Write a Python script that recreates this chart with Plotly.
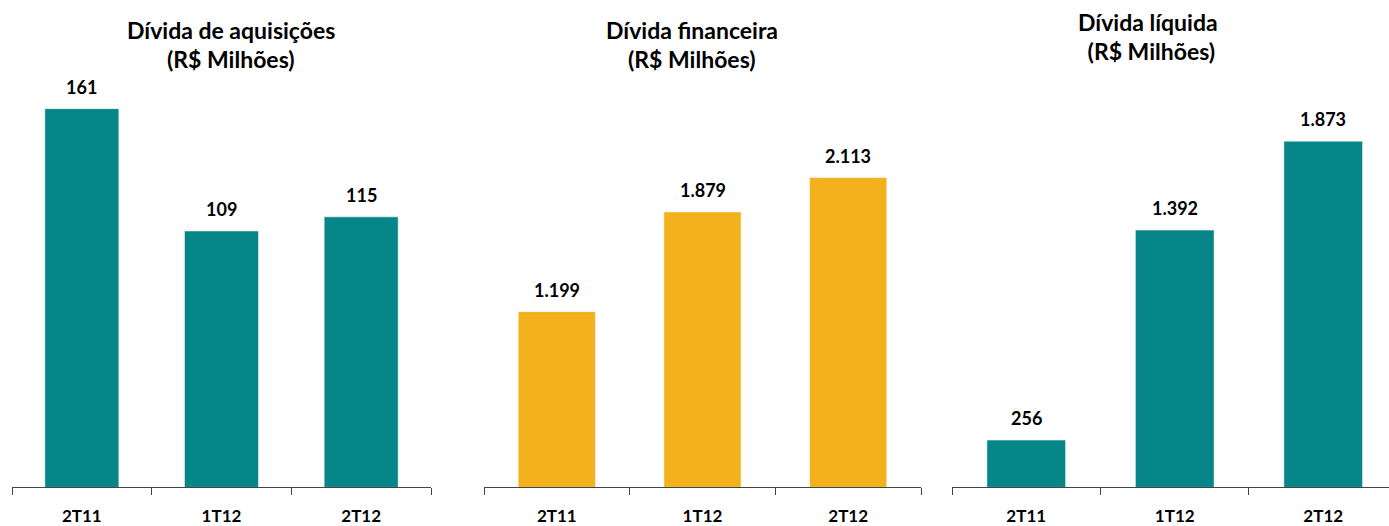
import plotly.graph_objects as go

categories = ["2T11", "1T12", "2T12"]
aquisicoes = [161, 109, 115]
financeira = [1199, 1879, 2113]
liquida = [256, 1392, 1873]

labels_aquisicoes = ["161", "109", "115"]
labels_financeira = ["1.199", "1.879", "2.113"]
labels_liquida = ["256", "1.392", "1.873"]

titles = [
    ("Dívida de aquisições", "(R$ Milhões)"),
    ("Dívida financeira", "(R$ Milhões)"),
    ("Dívida líquida", " (R$ Milhões)"),
]

W, H = 1389, 526
TEAL = "#07868A"
ORANGE = "#F3B11E"
FONT = "Lato"

fig = go.Figure()

panels = [
    dict(vals=aquisicoes, labs=labels_aquisicoes, color=TEAL, x0=12, x1=431, ymax=164.4, xr=[-0.5, 2.5]),
    dict(vals=financeira, labs=labels_financeira, color=ORANGE, x0=484, x1=921, ymax=2638, xr=[-0.5, 2.5]),
    dict(vals=liquida, labs=labels_liquida, color=TEAL, x0=952, x1=1389, ymax=2092, xr=[-0.5, 2.443]),
]

y_bottom = 1 - 494 / H
y_top = 1 - 102 / H

for i, p in enumerate(panels):
    n = "" if i == 0 else str(i + 1)
    fig.add_trace(go.Bar(
        x=categories, y=p["vals"], xaxis="x" + n, yaxis="y" + n,
        marker=dict(color=p["color"], line=dict(color="rgba(255,255,255,0.5)", width=1)),
        width=0.53, showlegend=False, hoverinfo="x+y",
    ))
    fig.layout["xaxis" + n] = dict(
        domain=[p["x0"] / W, min(p["x1"] / W, 1)], anchor="y" + n,
        type="category", range=p["xr"], tickson="boundaries",
        ticks="outside", ticklen=7, tickwidth=1, tickcolor="#444",
        showline=True, linecolor="#444", linewidth=1, showgrid=False,
        tickfont=dict(family=FONT, size=17, color="black", weight="bold"),
        ticklabelstandoff=13, fixedrange=True,
    )
    fig.layout["yaxis" + n] = dict(
        domain=[y_bottom, y_top], anchor="x" + n, range=[0, p["ymax"]],
        visible=False, showgrid=False, zeroline=False, fixedrange=True,
    )
    for c, v, l in zip(categories, p["vals"], p["labs"]):
        fig.add_annotation(
            x=c, y=v, xref="x" + n, yref="y" + n, text="<b>" + l + "</b>",
            showarrow=False, yanchor="bottom", yshift=9,
            font=dict(family=FONT, size=18, color="black"),
        )

title_pos = [(231, 30, 60), (692, 30, 60), (1148, 22, 52)]
for (t1, t2), (cx, y1, y2) in zip(titles, title_pos):
    for txt, yy in ((t1, y1), (t2, y2)):
        fig.add_annotation(
            x=cx / W, y=1 - yy / H, xref="paper", yref="paper",
            text="<b>" + txt + "</b>", showarrow=False,
            xanchor="center", yanchor="middle",
            font=dict(family=FONT, size=23, color="black"),
        )

fig.update_layout(
    width=W, height=H, margin=dict(l=0, r=0, t=0, b=0),
    paper_bgcolor="white", plot_bgcolor="white", bargap=0.47,
)

fig.write_html("out.html", config={"displayModeBar": False},
               post_script="document.body.style.margin='0';")
